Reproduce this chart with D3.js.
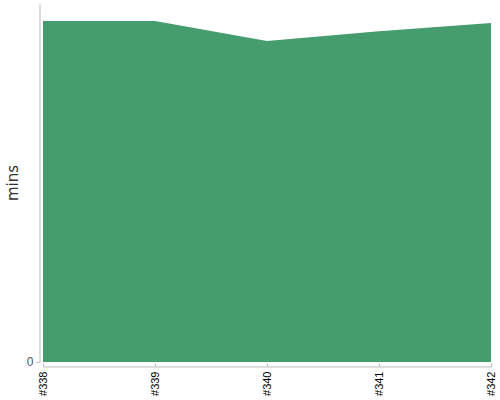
<!DOCTYPE html>
<html>
<head>
<meta charset="utf-8">
<script src="https://cdn.jsdelivr.net/npm/d3@7"></script>
<style>
  html, body { margin: 0; padding: 0; background: #fff; }
  svg { display: block; font-family: "DejaVu Sans", sans-serif; }
</style>
</head>
<body>
<svg id="chart" width="500" height="400"></svg>
<script>
const categories = ["#338", "#339", "#340", "#341", "#342"];
const minsValues = [42, 42, 39.54, 40.73, 41.75];
const yTickValues = [0];
const yLabel = "mins";

const svg = d3.select("#chart");
const plot = { left: 43, right: 491, top: 4, bottom: 362 };

const x = d3.scalePoint().domain(categories).range([plot.left, plot.right]);
const y = d3.scaleLinear().domain([0, d3.max(minsValues) * 1.05]).range([plot.bottom, plot.top]);

const data = categories.map((c, i) => ({ c, v: minsValues[i] }));

const area = d3.area()
  .x(d => x(d.c))
  .y0(y(0))
  .y1(d => y(d.v));

svg.append("path")
  .datum(data)
  .attr("d", area)
  .attr("fill", "#459c6c");

// y axis
const yAxis = svg.append("g")
  .attr("transform", "translate(39.5,0)")
  .call(d3.axisLeft(y).tickValues(yTickValues).tickSize(3).tickSizeOuter(0).tickFormat(d3.format("d")));
yAxis.select(".domain").attr("stroke", "#bbb");
yAxis.selectAll(".tick line").attr("stroke", "#bbb");
yAxis.selectAll(".tick text").attr("fill", "#555").attr("font-size", 12).attr("x", -6).attr("dy", "0.32em");

// x axis
const xAxis = svg.append("g")
  .attr("transform", "translate(0,366.5)")
  .call(d3.axisBottom(x).tickSize(-3).tickSizeOuter(-3));
xAxis.select(".domain").attr("stroke", "#bbb");
xAxis.selectAll(".tick line").attr("stroke", "#bbb");
xAxis.selectAll(".tick text")
  .attr("fill", "#000")
  .attr("font-size", 11)
  .attr("text-anchor", "end")
  .attr("transform", "rotate(-90)")
  .attr("x", -5)
  .attr("y", 0)
  .attr("dy", "0.35em");

svg.append("text")
  .attr("transform", `translate(18,${(plot.top + plot.bottom) / 2}) rotate(-90)`)
  .attr("text-anchor", "middle")
  .attr("fill", "#333")
  .attr("font-size", 15)
  .text(yLabel);
</script>
</body>
</html>
